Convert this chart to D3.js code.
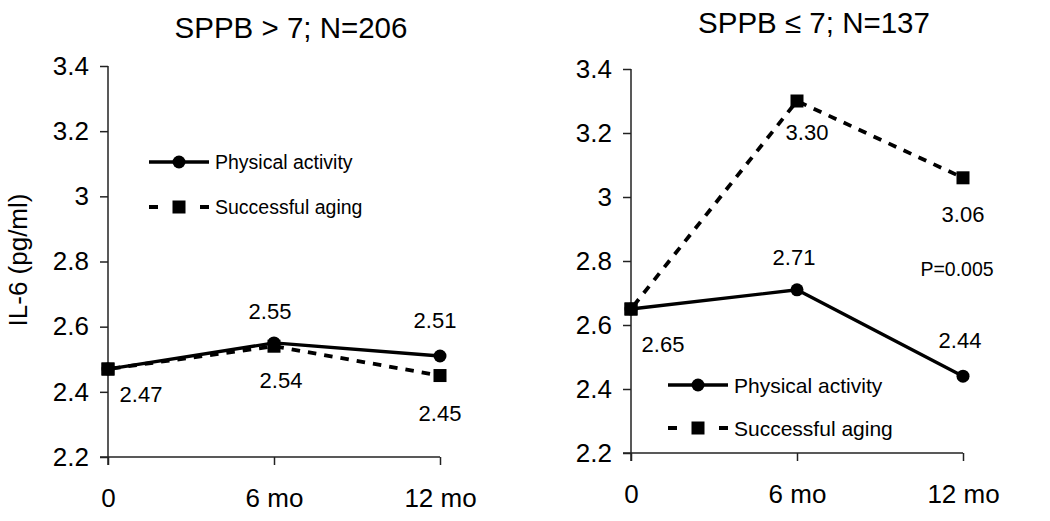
<!DOCTYPE html>
<html><head><meta charset="utf-8">
<script src="https://cdn.jsdelivr.net/npm/d3@7"></script>
<style>
body{margin:0;background:#fff;}
svg{display:block;font-family:"Liberation Sans",Arial,sans-serif;}
</style></head><body>
<svg id="c" width="1050" height="521"></svg>
<script>
// ---- data ----
const timepoints = [0, 6, 12];
const xTickLabels = ["0", "6 mo", "12 mo"];
const yTicks = [2.2, 2.4, 2.6, 2.8, 3.0, 3.2, 3.4];
const seriesNames = ["Physical activity", "Successful aging"];
const leftTitle = "SPPB > 7; N=206";
const rightTitle = "SPPB \u2264 7; N=137";
const leftPA = [2.47, 2.55, 2.51];
const leftSA = [2.47, 2.54, 2.45];
const rightPA = [2.65, 2.71, 2.44];
const rightSA = [2.65, 3.30, 3.06];
const leftLabels = ["2.47","2.55","2.51"];
const leftLabelsSA = [null,"2.54","2.45"];
const rightLabels = [null,"2.71","2.44"];
const rightLabelsSA = ["2.65","3.30","3.06"];
const pValue = "P=0.005";
const yTitle = "IL-6 (pg/ml)";

const svg = d3.select("#c");

function panel(cfg){
  const g = svg.append("g");
  const x = d3.scaleLinear().domain([0,12]).range(cfg.xr);
  const y = d3.scaleLinear().domain([2.2,3.4]).range(cfg.yr);
  const fmt = d => d===3 ? "3" : d3.format(".1f")(d);
  const ya = g.append("g").attr("transform",`translate(${cfg.xr[0]},0)`)
    .call(d3.axisLeft(y).tickValues(yTicks).tickFormat(fmt).tickSize(8).tickPadding(11));
  const xa = g.append("g").attr("transform",`translate(0,${cfg.yr[0]})`)
    .call(d3.axisBottom(x).tickValues(timepoints).tickFormat((d,i)=>xTickLabels[i]).tickSize(8).tickPadding(24));
  [ya,xa].forEach(a=>{
    a.select(".domain").attr("stroke","#222").attr("stroke-width",1.5);
    a.selectAll(".tick line").attr("stroke","#222").attr("stroke-width",1.5);
    a.selectAll("text").attr("font-size",26).attr("fill","#000").attr("font-family","Liberation Sans, Arial, sans-serif");
  });
  ya.select(".domain").attr("d",`M0,${cfg.yr[1]}V${cfg.yr[0]+8}`);
  xa.select(".domain").attr("d",`M${cfg.xr[0]-8},0H${cfg.xr[1]}`);

  g.append("text").attr("x",(cfg.xr[0]+cfg.xr[1])/2+cfg.titleDx).attr("y",cfg.titleY)
    .attr("text-anchor","middle").attr("font-size",29.5).attr("fill","#000").text(cfg.title);

  const line = d3.line().x((d,i)=>x(timepoints[i])).y(d=>y(d));
  g.append("path").attr("d",line(cfg.pa)).attr("fill","none").attr("stroke","#000").attr("stroke-width",3.3);
  g.append("path").attr("d",line(cfg.sa)).attr("fill","none").attr("stroke","#000").attr("stroke-width",3.8)
    .attr("stroke-dasharray","8.5,8").attr("stroke-dashoffset",-4);

  const drawPA = () => g.selectAll(null).data(cfg.pa).enter().append("circle")
    .attr("cx",(d,i)=>x(timepoints[i])).attr("cy",d=>y(d)).attr("r",6.5).attr("fill","#000");
  const drawSA = () => g.selectAll(null).data(cfg.sa).enter().append("rect")
    .attr("x",(d,i)=>x(timepoints[i])-6.5).attr("y",d=>y(d)-6.5).attr("width",13).attr("height",13).attr("fill","#000");
  drawSA(); drawPA();
  g.append("rect").attr("x",x(timepoints[0])-6.5).attr("y",y(cfg.sa[0])-6.5).attr("width",13).attr("height",13).attr("fill","#000");

  const lab = (txt, i, v, dx, dy) => {
    if(!txt) return;
    g.append("text").attr("x",x(timepoints[i])+dx).attr("y",y(v)+dy)
      .attr("text-anchor","middle").attr("font-size",22).attr("fill","#000").text(txt);
  };
  cfg.paLabels.forEach((t,i)=>lab(t,i,cfg.pa[i],cfg.paOff[i][0],cfg.paOff[i][1]));
  cfg.saLabels.forEach((t,i)=>lab(t,i,cfg.sa[i],cfg.saOff[i][0],cfg.saOff[i][1]));

  const L = cfg.legend;
  const lg = g.append("g").attr("transform",`translate(${L.x},${L.y})`);
  lg.append("line").attr("x1",0).attr("x2",60).attr("y1",0).attr("y2",0).attr("stroke","#000").attr("stroke-width",3.3);
  lg.append("circle").attr("cx",30).attr("cy",0).attr("r",6.5).attr("fill","#000");
  lg.append("text").attr("x",66).attr("y",0).attr("dy","0.36em").attr("font-size",L.fs).attr("fill","#000").text(seriesNames[0]);
  lg.append("line").attr("x1",0).attr("x2",60).attr("y1",L.gap).attr("y2",L.gap).attr("stroke","#000").attr("stroke-width",3.8)
    .attr("stroke-dasharray","9,42,9");
  lg.append("rect").attr("x",23.5).attr("y",L.gap-6.5).attr("width",13).attr("height",13).attr("fill","#000");
  lg.append("text").attr("x",66).attr("y",L.gap).attr("dy","0.36em").attr("font-size",L.fs).attr("fill","#000").text(seriesNames[1]);
  return {g,x,y};
}

panel({xr:[108,440], yr:[457,66], title:leftTitle, titleDx:17, titleY:38,
  pa:leftPA, sa:leftSA, paLabels:leftLabels, saLabels:leftLabelsSA,
  paOff:[[33,33],[-4,-24],[-5,-28]], saOff:[[0,0],[7,42],[0,45]],
  legend:{x:149,y:162,gap:45,fs:19.5}});

const R = panel({xr:[631,963], yr:[453,69], title:rightTitle, titleDx:17, titleY:33,
  pa:rightPA, sa:rightSA, paLabels:rightLabels, saLabels:rightLabelsSA,
  paOff:[[0,0],[-3,-25],[-3,-28]], saOff:[[32,43],[10,39],[0,44]],
  legend:{x:668,y:385,gap:43,fs:21}});

R.g.append("text").attr("x",R.x(12)-6).attr("y",R.y(2.8)+15).attr("text-anchor","middle")
  .attr("font-size",19.5).attr("fill","#000").text(pValue);

svg.append("text").attr("transform","translate(27,260) rotate(-90)").attr("text-anchor","middle")
  .attr("font-size",26).attr("fill","#000").text(yTitle);
</script>
</body></html>
